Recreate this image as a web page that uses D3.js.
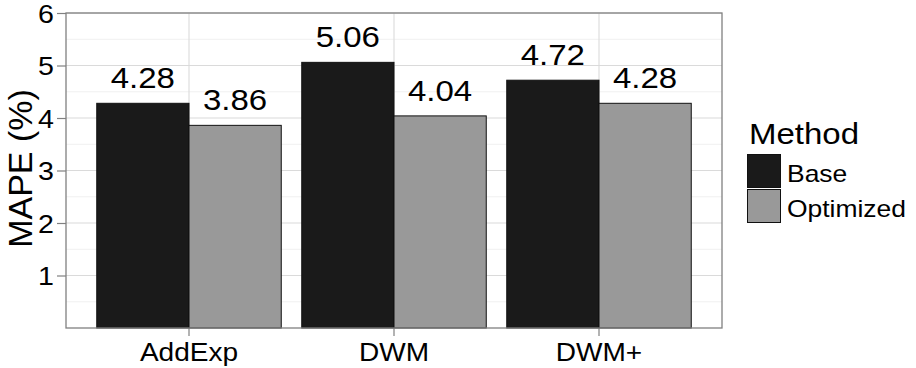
<!DOCTYPE html>
<html>
<head>
<meta charset="utf-8">
<script src="https://cdn.jsdelivr.net/npm/d3@7"></script>
<style>
  html, body { margin: 0; padding: 0; background: #fff; }
  svg { display: block; }
  text { font-family: "Liberation Sans", Arial, sans-serif; fill: #000; }
</style>
</head>
<body>
<svg id="chart" width="916" height="368"></svg>
<script>
// Forecast error by method, before and after optimisation
const categories = ["AddExp", "DWM", "DWM+"];
const methods = ["Base", "Optimized"];
const baseValues = [4.28, 5.06, 4.72];
const optimizedValues = [3.86, 4.04, 4.28];
const yTicks = [1, 2, 3, 4, 5, 6];
const yTitle = "MAPE (%)";
const legendTitle = "Method";

const fills = { Base: "#1a1a1a", Optimized: "#999999" };
const xStretch = 1.1;

const rows = categories.map((c, i) => ({
  category: c,
  values: [
    { method: "Base", value: baseValues[i] },
    { method: "Optimized", value: optimizedValues[i] }
  ]
}));

const panel = { left: 66, right: 722, top: 13, bottom: 328 };
const svg = d3.select("#chart");

const x = d3.scaleBand()
  .domain(categories)
  .range([panel.left, panel.right])
  .paddingInner(0.1)
  .paddingOuter(0.15);

const xSub = d3.scaleBand()
  .domain(methods)
  .range([0, x.bandwidth()]);

const y = d3.scaleLinear()
  .domain([0, 6])
  .range([panel.bottom, panel.top]);

// panel background
svg.append("rect")
  .attr("x", panel.left).attr("y", panel.top)
  .attr("width", panel.right - panel.left)
  .attr("height", panel.bottom - panel.top)
  .attr("fill", "#fff");

// minor gridlines at the half units
const minor = d3.range(0.5, 6, 1);
svg.append("g").selectAll("line").data(minor).join("line")
  .attr("x1", panel.left).attr("x2", panel.right)
  .attr("y1", d => y(d)).attr("y2", d => y(d))
  .attr("stroke", "#f0f0f0").attr("stroke-width", 1);

// major gridlines
svg.append("g").selectAll("line").data(yTicks).join("line")
  .attr("x1", panel.left).attr("x2", panel.right)
  .attr("y1", d => y(d)).attr("y2", d => y(d))
  .attr("stroke", "#dadada").attr("stroke-width", 1.1);

svg.append("g").selectAll("line").data(categories).join("line")
  .attr("x1", d => x(d) + x.bandwidth() / 2).attr("x2", d => x(d) + x.bandwidth() / 2)
  .attr("y1", panel.top).attr("y2", panel.bottom)
  .attr("stroke", "#dadada").attr("stroke-width", 1.1);

// bars
const groups = svg.append("g").selectAll("g").data(rows).join("g")
  .attr("transform", d => `translate(${x(d.category)},0)`);

groups.selectAll("rect").data(d => d.values).join("rect")
  .attr("x", d => xSub(d.method))
  .attr("y", d => y(d.value))
  .attr("width", xSub.bandwidth())
  .attr("height", d => y(0) - y(d.value))
  .attr("fill", d => fills[d.method])
  .attr("stroke", "#111")
  .attr("stroke-width", 1);

// value labels above the bars
groups.selectAll("text").data(d => d.values).join("text")
  .attr("transform", d => `translate(${xSub(d.method) + xSub.bandwidth() / 2},${y(d.value) - 15}) scale(${xStretch},1)`)
  .attr("text-anchor", "middle")
  .style("font-size", "30px")
  .text(d => d.value.toFixed(2));

// panel border
svg.append("rect")
  .attr("x", panel.left).attr("y", panel.top)
  .attr("width", panel.right - panel.left)
  .attr("height", panel.bottom - panel.top)
  .attr("fill", "none")
  .attr("stroke", "#808080").attr("stroke-width", 1.3);

// y axis
const yAxis = svg.append("g")
  .attr("transform", `translate(${panel.left},0)`)
  .call(d3.axisLeft(y).tickValues(yTicks).tickSize(9).tickPadding(3).tickFormat(d3.format("d")));
yAxis.select(".domain").remove();
yAxis.selectAll(".tick line").attr("stroke", "#808080").attr("stroke-width", 1.2);
yAxis.selectAll(".tick text")
  .style("font-size", "26px")
  .attr("fill", "#000")
  .attr("dy", "0.36em")
  .attr("transform", `scale(${xStretch},1)`)
  .attr("x", -12 / xStretch);

// x axis
const xAxis = svg.append("g")
  .attr("transform", `translate(0,${panel.bottom})`)
  .call(d3.axisBottom(x).tickSize(8).tickPadding(4));
xAxis.select(".domain").remove();
xAxis.selectAll(".tick line").attr("stroke", "#808080").attr("stroke-width", 1.2);
xAxis.selectAll(".tick text")
  .style("font-size", "25.5px")
  .attr("fill", "#000")
  .attr("y", 33).attr("dy", 0)
  .attr("transform", `scale(${xStretch},1)`);

// y axis title
svg.append("text")
  .attr("transform", `translate(32,${(panel.top + panel.bottom) / 2 - 2}) rotate(-90)`)
  .attr("text-anchor", "middle")
  .style("font-size", "34px")
  .text(yTitle);

// legend
const legend = svg.append("g").attr("transform", "translate(747,0)");
legend.append("text")
  .attr("transform", `translate(2,144) scale(${xStretch},1)`)
  .style("font-size", "30px")
  .text(legendTitle);

const keys = legend.selectAll("g.key").data(methods).join("g")
  .attr("class", "key")
  .attr("transform", (d, i) => `translate(0,${154 + i * 35})`);
keys.append("rect")
  .attr("x", 0.5).attr("y", 0.5)
  .attr("width", 33).attr("height", 33)
  .attr("fill", d => fills[d])
  .attr("stroke", "#111").attr("stroke-width", 1);
keys.append("text")
  .attr("transform", `translate(40,28) scale(1.15,1)`)
  .style("font-size", "23px")
  .text(d => d);
</script>
</body>
</html>
